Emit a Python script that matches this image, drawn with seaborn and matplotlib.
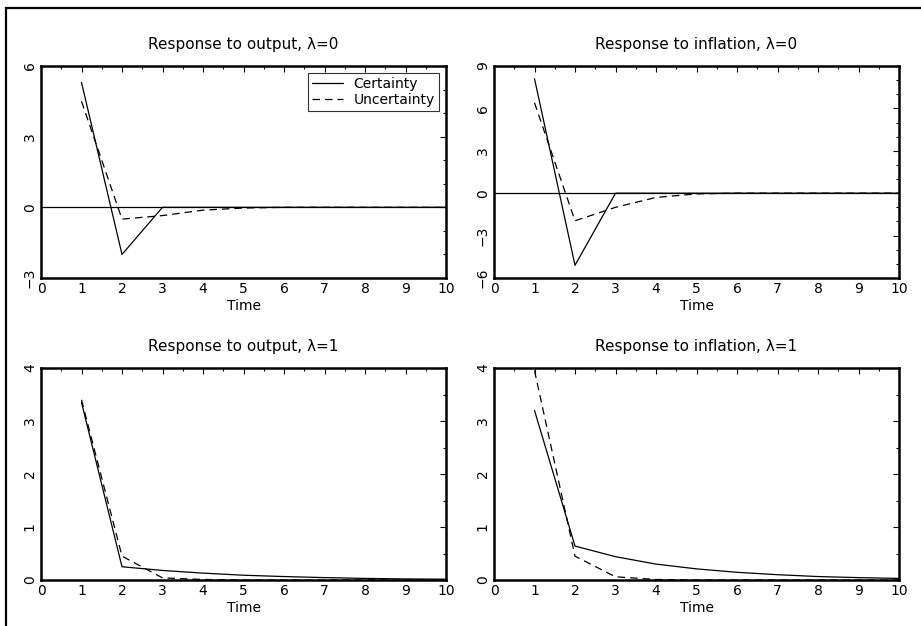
import numpy as np
import pandas as pd
import matplotlib
matplotlib.use('Agg')
import matplotlib.pyplot as plt
import seaborn as sns

# Data
time = [1, 2, 3, 4, 5, 6, 7, 8, 9, 10]

out0_cert = [5.3, -2.0, 0.0, 0.0, 0.0, 0.0, 0.0, 0.0, 0.0, 0.0]
out0_unc = [4.5, -0.5, -0.35, -0.12, -0.03, 0.0, 0.0, 0.0, 0.0, 0.0]

inf0_cert = [8.1, -5.1, 0.0, 0.0, 0.0, 0.0, 0.0, 0.0, 0.0, 0.0]
inf0_unc = [6.4, -1.95, -1.0, -0.3, -0.05, 0.0, 0.0, 0.0, 0.0, 0.0]

out1_cert = [3.35, 0.25, 0.18, 0.13, 0.09, 0.065, 0.045, 0.03, 0.02, 0.015]
out1_unc = [3.4, 0.45, 0.04, 0.01, 0.0, 0.0, 0.0, 0.0, 0.0, 0.0]

inf1_cert = [3.2, 0.64, 0.44, 0.30, 0.21, 0.145, 0.10, 0.065, 0.045, 0.03]
inf1_unc = [3.95, 0.45, 0.06, 0.01, 0.0, 0.0, 0.0, 0.0, 0.0, 0.0]

titles = ['Response to output, λ=0', 'Response to inflation, λ=0',
          'Response to output, λ=1', 'Response to inflation, λ=1']
yticks = [[-3, 0, 3, 6], [-6, -3, 0, 3, 6, 9], [0, 1, 2, 3, 4], [0, 1, 2, 3, 4]]
series = [(out0_cert, out0_unc), (inf0_cert, inf0_unc),
          (out1_cert, out1_unc), (inf1_cert, inf1_unc)]

sns.set_style('white')
plt.rcParams['font.family'] = ['DejaVu Sans']
plt.rcParams['text.color'] = 'black'
plt.rcParams['axes.labelcolor'] = 'black'
plt.rcParams['xtick.color'] = 'black'
plt.rcParams['ytick.color'] = 'black'

fig = plt.figure(figsize=(9.21, 6.26), dpi=100)

# outer frame (only top and left visible)
fig.add_artist(plt.Rectangle((6 / 921, -0.2), 1.2, 1.2 - 8 / 626,
                             transform=fig.transFigure, fill=False,
                             edgecolor='black', linewidth=1.6))

lefts = [41 / 921, 494 / 921]
bottoms = [1 - 278 / 626, 1 - 580 / 626]
w = 405 / 921
h = 212 / 626

for i in range(4):
    r, c = divmod(i, 2)
    ax = fig.add_axes([lefts[c], bottoms[r], w, h])
    cert, unc = series[i]
    df = pd.DataFrame({'Time': time, 'Certainty': cert, 'Uncertainty': unc})
    sns.lineplot(data=df, x='Time', y='Certainty', ax=ax, color='black',
                 linewidth=0.9, label='Certainty' if i == 0 else None)
    sns.lineplot(data=df, x='Time', y='Uncertainty', ax=ax, color='black',
                 linewidth=0.9, label='Uncertainty' if i == 0 else None)
    ax.lines[-1].set_dashes([6, 4])
    if r == 0:
        ax.axhline(0, color='black', linewidth=0.9)

    ax.set_xlim(0, 10)
    ax.set_ylim(yticks[i][0], yticks[i][-1])
    ax.set_xticks(range(0, 11))
    ax.set_xticks(np.arange(0, 10.5, 0.5), minor=True)
    ax.set_yticks(yticks[i])
    step = 1 if r == 0 else 0.5
    ax.set_yticks(np.arange(yticks[i][0], yticks[i][-1] + 0.01, step), minor=True)
    ax.set_yticklabels([str(v).replace('-', '\u2212') for v in yticks[i]],
                       rotation=90, va='center')
    ax.tick_params(which='both', direction='in', top=True, right=True,
                   labelsize=10, pad=3, width=0.8, colors='black')
    ax.tick_params(which='major', length=4)
    ax.tick_params(which='minor', length=2.5)
    ax.set_xlabel('Time', fontsize=10, labelpad=2, color='black')
    ax.set_ylabel('')
    ax.set_title(titles[i], fontsize=11, pad=12, color='black')
    for s in ax.spines.values():
        s.set_visible(True)
        s.set_color('black')
        s.set_linewidth(1.8)
    if i == 0:
        leg = ax.legend(loc='upper right', frameon=True, fancybox=False,
                        fontsize=10, handlelength=2.2, borderpad=0.3,
                        labelspacing=0.1, borderaxespad=0.5)
        leg.get_frame().set_edgecolor('black')
        leg.get_frame().set_linewidth(0.8)
        leg.get_lines()[1].set_dashes([6, 4])
        for t in leg.get_texts():
            t.set_color('black')
    elif ax.get_legend() is not None:
        ax.get_legend().remove()

fig.savefig('out.png', dpi=100)
